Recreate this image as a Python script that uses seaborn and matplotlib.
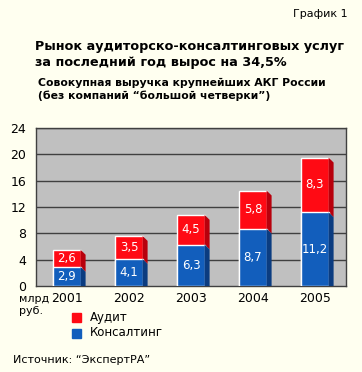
import matplotlib
matplotlib.use("Agg")
import matplotlib.pyplot as plt
from matplotlib.patches import Polygon, Rectangle
import seaborn as sns
import pandas as pd

years = ["2001", "2002", "2003", "2004", "2005"]
audit = [2.6, 3.5, 4.5, 5.8, 8.3]
consulting = [2.9, 4.1, 6.3, 8.7, 11.2]
yticks = [0, 4, 8, 12, 16, 20, 24]

bg = "#FFFFF0"
red = "#FF0A14"
blue = "#125EBC"
red_side = "#B8000C"
blue_side = "#0B3C80"

df = pd.DataFrame({"year": years, "audit": audit, "consulting": consulting})
df["total"] = df["audit"] + df["consulting"]

sns.set_style("white")
plt.rcParams["font.family"] = ["DejaVu Sans"]
plt.rcParams["text.color"] = "black"
plt.rcParams["xtick.color"] = "black"
plt.rcParams["ytick.color"] = "black"

fig = plt.figure(figsize=(3.62, 3.72), dpi=100, facecolor=bg)
ax = fig.add_axes([36 / 362, (372 - 286) / 372, 310 / 362, 158 / 372])
ax.set_facecolor("#C0C0C0")

ax.set_ylim(0, 24)
ax.set_xlim(-0.5, 4.5)
for t in yticks[1:]:
    ax.axhline(t, color="#404040", lw=1, zorder=1)

w = 0.44
sns.barplot(data=df, x="year", y="total", color=red, width=w, saturation=1, ax=ax, zorder=3)
sns.barplot(data=df, x="year", y="consulting", color=blue, width=w, saturation=1, ax=ax, zorder=4)

# fake 3D side faces
dx, dy = 0.08, 0.75
for i, row in df.iterrows():
    x1 = i + w / 2
    c, t = row["consulting"], row["total"]
    ax.add_patch(Polygon([(x1, c), (x1 + dx, c - dy), (x1 + dx, t - dy), (x1, t)],
                         closed=True, color=red_side, zorder=3, lw=0))
    ax.add_patch(Polygon([(x1, 0), (x1 + dx, 0), (x1 + dx, c - dy), (x1, c)],
                         closed=True, color=blue_side, zorder=4, lw=0))
    ax.text(i, c / 2, f"{c:.1f}".replace(".", ","), color="white", ha="center",
            va="center", fontsize=8.5, zorder=5)
    ax.text(i, c + row["audit"] / 2, f"{row['audit']:.1f}".replace(".", ","), color="white",
            ha="center", va="center", fontsize=8.5, zorder=5)

ax.set_yticks(yticks)
ax.set_yticklabels([str(t) for t in yticks], fontsize=9)
ax.set_xticks(range(5))
ax.set_xticklabels(years, fontsize=9)
ax.set_xticks([0.5, 1.5, 2.5, 3.5, 4.5], minor=True)
ax.tick_params(axis="x", which="major", length=0, pad=4)
ax.tick_params(axis="x", which="minor", length=4, color="#404040", direction="out")
ax.tick_params(axis="y", length=4, color="#404040", labelcolor="black", direction="out", pad=3)
ax.tick_params(axis="x", labelcolor="black")
ax.set_xlabel("")
ax.set_ylabel("")
for s in ax.spines.values():
    s.set_color("#404040")
    s.set_linewidth(1)

fig.text(348 / 362, 1 - 14 / 372, "График 1", ha="right", va="center", fontsize=8)
fig.text(35 / 362, 1 - 54.5 / 372, "Рынок аудиторско-консалтинговых услуг\nза последний год вырос на 34,5%",
         ha="left", va="center", fontsize=9.2, fontweight="bold", linespacing=1.3)
fig.text(38 / 362, 1 - 89.5 / 372, "Совокупная выручка крупнейших АКГ России\n(без компаний “большой четверки”)",
         ha="left", va="center", fontsize=7.8, fontweight="bold", linespacing=1.3)
fig.text(19 / 362, 1 - 305 / 372, "млрд\nруб.", ha="left", va="center", fontsize=8, linespacing=1.3)

for yy, col, lab in [(317, red, "Аудит"), (333, blue, "Консалтинг")]:
    fig.patches.append(Rectangle((72 / 362, 1 - (yy + 4.5) / 372), 9 / 362, 9 / 372,
                                 transform=fig.transFigure, color=col, figure=fig))
    fig.text(90 / 362, 1 - yy / 372, lab, ha="left", va="center", fontsize=8.5)

fig.text(13 / 362, 1 - 360 / 372, "Источник: “ЭкспертРА”", ha="left", va="center", fontsize=8)

fig.savefig("out.png", dpi=100, facecolor=bg)
